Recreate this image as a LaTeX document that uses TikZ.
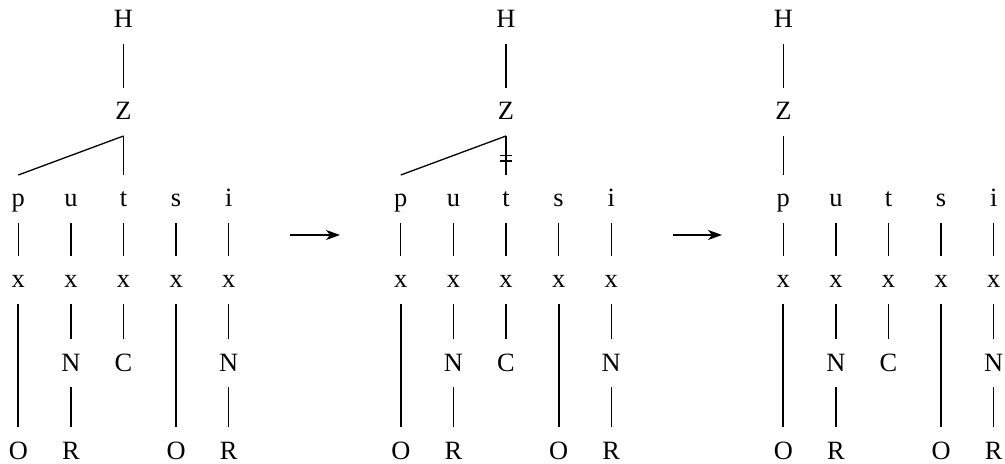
\documentclass[tikz,border=0pt]{standalone}
\usepackage{fontspec}
\setmainfont{Liberation Serif}
\usetikzlibrary{arrows.meta}
\begin{document}
\begin{tikzpicture}[x=0.5pt,y=-0.5pt,
  seg/.style={font=\fontsize{13.2}{15}\selectfont, anchor=base, inner xsep=0pt, inner ysep=4pt, text height=12pt, text depth=4pt, outer sep=0pt},
  assoc/.style={line width=0.65pt},
  heavy/.style={line width=1pt},
  derive/.style={line width=0.7pt, -{Stealth[length=7pt,width=5pt,inset=2pt]}}]
\useasboundingbox (0,0) rectangle (1005,464);
\foreach \k/\dx in {1/0,2/382.5,3/765}{
  \begin{scope}[shift={(\dx,0)}]
    \node[seg] (p\k) at (18.3,207) {p};
    \node[seg] (u\k) at (70.9,207) {u};
    \node[seg] (t\k) at (123.5,207) {t};
    \node[seg] (s\k) at (176.1,207) {s};
    \node[seg] (i\k) at (228.7,207) {i};
    \node[seg] (xa\k) at (18.3,288) {x};
    \node[seg] (xb\k) at (70.9,288) {x};
    \node[seg] (xc\k) at (123.5,288) {x};
    \node[seg] (xd\k) at (176.1,288) {x};
    \node[seg] (xe\k) at (228.7,288) {x};
    \node[seg] (Na\k) at (70.9,371) {N};
    \node[seg] (C\k) at (123.5,371) {C};
    \node[seg] (Nb\k) at (228.7,371) {N};
    \node[seg] (Oa\k) at (18.3,459) {O};
    \node[seg] (Ra\k) at (70.9,459) {R};
    \node[seg] (Ob\k) at (176.1,459) {O};
    \node[seg] (Rb\k) at (228.7,459) {R};
    \draw[assoc] (p\k) -- (xa\k);
    \draw[assoc] (u\k) -- (xb\k);
    \draw[assoc] (t\k) -- (xc\k);
    \draw[assoc] (s\k) -- (xd\k);
    \draw[assoc] (i\k) -- (xe\k);
    \draw[heavy] (xa\k) -- (Oa\k);
    \draw[assoc] (xb\k) -- (Na\k);
    \draw[assoc] (Na\k) -- (Ra\k);
    \draw[assoc] (xc\k) -- (C\k);
    \draw[heavy] (xd\k) -- (Ob\k);
    \draw[assoc] (xe\k) -- (Nb\k);
    \draw[assoc] (Nb\k) -- (Rb\k);
  \end{scope}
}
% tree 1
\node[seg] (H1) at (123.5,28) {H};
\node[seg] (Z1) at (123.5,120) {Z};
\draw[assoc] (H1) -- (Z1);
\draw[assoc] (Z1.south) -- (p1.north);
\draw[assoc] (Z1.south) -- (t1.north);
% tree 2
\node[seg] (H2) at (506,28) {H};
\node[seg] (Z2) at (506,120) {Z};
\draw[assoc] (H2) -- (Z2);
\draw[assoc] (Z2.south) -- (p2.north);
\draw[assoc] (Z2.south) -- coordinate[pos=0.57] (cut) (t2.north);
\draw[assoc] ([shift={(-6,-2.7)}]cut) -- ++(12,0);
\draw[assoc] ([shift={(-6,2.7)}]cut) -- ++(12,0);
% tree 3
\node[seg] (H3) at (783.3,28) {H};
\node[seg] (Z3) at (783.3,120) {Z};
\draw[assoc] (H3) -- (Z3);
\draw[assoc] (Z3) -- (p3);
% derivation arrows
\coordinate (a1s) at (290,235);
\coordinate (a1e) at (340,235);
\coordinate (a2s) at (673,235);
\coordinate (a2e) at (722,235);
\draw[derive] (a1s) -- (a1e);
\draw[derive] (a2s) -- (a2e);
\end{tikzpicture}
\end{document}
